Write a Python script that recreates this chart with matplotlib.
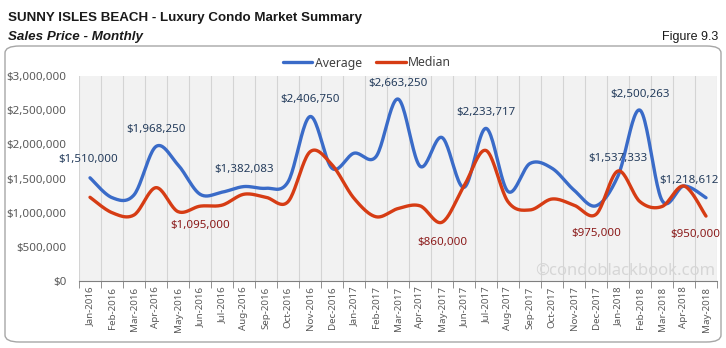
import numpy as np
import matplotlib.pyplot as plt
from matplotlib.patches import FancyBboxPatch

months = ['Jan-2016', 'Feb-2016', 'Mar-2016', 'Apr-2016', 'May-2016', 'Jun-2016', 'Jul-2016',
          'Aug-2016', 'Sep-2016', 'Oct-2016', 'Nov-2016', 'Dec-2016', 'Jan-2017', 'Feb-2017',
          'Mar-2017', 'Apr-2017', 'May-2017', 'Jun-2017', 'Jul-2017', 'Aug-2017', 'Sep-2017',
          'Oct-2017', 'Nov-2017', 'Dec-2017', 'Jan-2018', 'Feb-2018', 'Mar-2018', 'Apr-2018',
          'May-2018']

average = [1510000, 1220000, 1260000, 1968250, 1700000, 1270000, 1300000, 1382083, 1357000,
           1450000, 2406750, 1650000, 1870000, 1820000, 2663250, 1680000, 2100000, 1370000,
           2233717, 1310000, 1720000, 1650000, 1330000, 1100000, 1537333, 2500263, 1180000,
           1390000, 1218612]

median = [1225000, 1000000, 966000, 1366000, 1015000, 1095000, 1110000, 1270000, 1225000,
          1160000, 1890000, 1700000, 1210000, 940000, 1060000, 1100000, 860000, 1390000,
          1910000, 1160000, 1040000, 1200000, 1110000, 975000, 1610000, 1160000, 1090000,
          1390000, 950000]

# labelled points: (index, dx px, dy px)
avg_labels = [(0, -2, 18), (3, 0, 17), (7, 0, 17), (10, 0, 17), (14, 0, 16), (18, 0, 16),
              (24, 0, 17), (25, 0, 16), (28, -17, 17)]
med_labels = [(5, 0, -19), (16, 0, -20), (23, 0, -19), (28, -11, -18)]

BLUE = '#3a6bc8'
RED = '#d63c14'


def smooth(y, n=24):
    # excel-like smoothed line (catmull-rom bezier)
    y = np.asarray(y, dtype=float)
    x = np.arange(len(y), dtype=float)
    pts = np.column_stack([x, y])
    ext = np.vstack([pts[0], pts, pts[-1]])
    out = []
    t = np.linspace(0, 1, n)[:, None]
    for i in range(len(y) - 1):
        p0, p1, p2, p3 = ext[i], ext[i + 1], ext[i + 2], ext[i + 3]
        c1 = p1 + (p2 - p0) / 6
        c2 = p2 - (p3 - p1) / 6
        seg = ((1 - t) ** 3) * p1 + 3 * ((1 - t) ** 2) * t * c1 + 3 * (1 - t) * t ** 2 * c2 + t ** 3 * p2
        out.append(seg if i == 0 else seg[1:])
    out = np.vstack(out)
    return out[:, 0], out[:, 1]


plt.rcParams['font.family'] = ['Noto Sans', 'DejaVu Sans']
fig = plt.figure(figsize=(7.26, 3.48), dpi=100)
fig.patch.set_facecolor('white')

# outer rounded frame
frame = FancyBboxPatch((5 / 726, 6 / 348), 716 / 726, 296 / 348,
                       boxstyle='round,pad=0,rounding_size=0.02', transform=fig.transFigure,
                       facecolor='none', edgecolor='#a6a6a6', linewidth=1.0, zorder=-5)
fig.patches.append(frame)

ax = fig.add_axes([79 / 726, (348 - 281) / 348, 638 / 726, 205 / 348])
ax.set_zorder(2)
ax.set_facecolor('#f2f2f2')

xa, ya = smooth(average)
xm, ym = smooth(median)
la, = ax.plot(xa, ya, color=BLUE, lw=2.4, solid_capstyle='round', zorder=3)
lm, = ax.plot(xm, ym, color=RED, lw=2.4, solid_capstyle='round', zorder=3)

for i, dx, dy in avg_labels:
    ax.annotate('${:,}'.format(average[i]), (i, average[i]), xytext=(dx, dy),
                textcoords='offset pixels', ha='center', va='center', fontsize=8.3,
                color='#243c5c', zorder=4)
for i, dx, dy in med_labels:
    ax.annotate('${:,}'.format(median[i]), (i, median[i]), xytext=(dx, dy),
                textcoords='offset pixels', ha='center', va='center', fontsize=8.3,
                color='#8b1a1a', zorder=4)

ax.set_xlim(-0.5, len(months) - 0.5)
ax.set_ylim(0, 3000000)
ax.set_yticks(np.arange(0, 3000001, 500000))
ax.set_yticklabels(['${:,}'.format(v) for v in range(0, 3000001, 500000)],
                   fontsize=8.3, color='#595959')
ax.set_xticks(range(len(months)))
ax.set_xticklabels(months, rotation=90, fontsize=7, color='#595959')
ax.set_xticks(np.arange(-0.5, len(months)), minor=True)
ax.tick_params(axis='x', which='major', length=0, pad=4)
ax.tick_params(axis='x', which='minor', length=5, color='#7f7f7f', direction='out')
ax.tick_params(axis='y', length=0, pad=9)
ax.grid(True, which='minor', axis='x', color='#d4d4d4', lw=0.8)
for s in ['top', 'right', 'left']:
    ax.spines[s].set_visible(False)
ax.spines['bottom'].set_color('#7f7f7f')

fig.legend([la, lm], ['Average', 'Median'], loc='center', bbox_to_anchor=(367 / 726, 1 - 63 / 348),
           ncol=2, frameon=False, fontsize=8.8, handlelength=2.4, handletextpad=0.2,
           columnspacing=1.2, labelcolor='#404040')

ax.text(0.997, 0.05, '\u00a9condoblackbook.com', transform=ax.transAxes, ha='right', va='center',
        fontsize=12, color='#d6d6d6', zorder=2)

tf = ['Liberation Sans', 'DejaVu Sans']
fig.text(8 / 726, 1 - 18 / 348, 'SUNNY ISLES BEACH - Luxury Condo Market Summary', family=tf,
         fontsize=9.6, fontweight='bold', va='center', ha='left', color='#1a1a1a')
fig.text(8 / 726, 1 - 37 / 348, 'Sales Price - Monthly', family=tf, fontsize=9.6,
         fontweight='bold', style='italic', va='center', ha='left', color='#1a1a1a')
fig.text(718 / 726, 1 - 37 / 348, 'Figure 9.3', family=tf, fontsize=9, va='center',
         ha='right', color='#1a1a1a')

fig.savefig('out.png', dpi=100)
